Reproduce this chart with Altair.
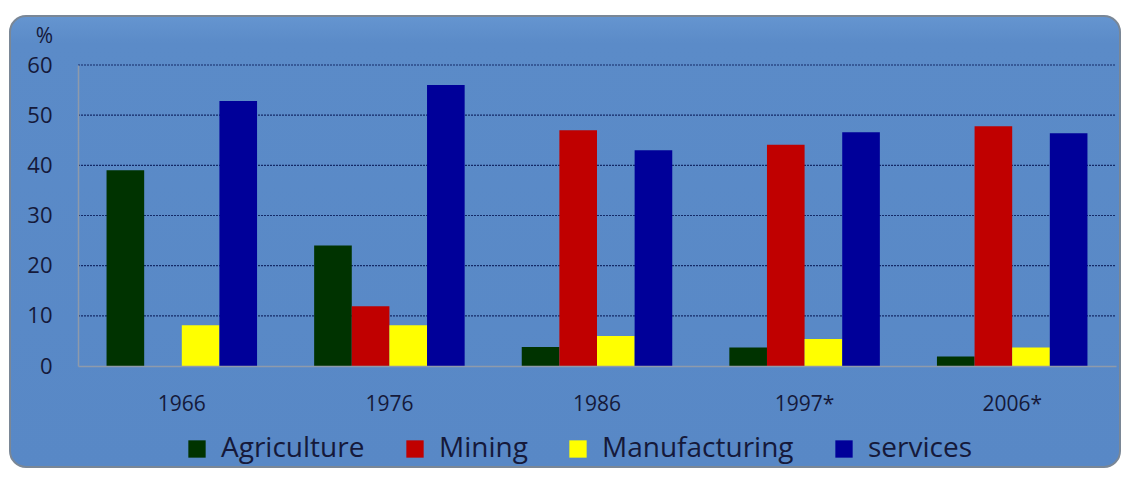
import altair as alt
import pandas as pd

years = ["1966", "1976", "1986", "1997*", "2006*"]
sectors = ["Agriculture", "Mining", "Manufacturing", "services"]
agriculture = [39.0, 24.0, 3.8, 3.7, 1.9]
mining = [0.0, 11.9, 47.0, 44.1, 47.8]
manufacturing = [8.1, 8.1, 6.0, 5.4, 3.7]
services = [52.8, 56.0, 43.0, 46.6, 46.4]
colors = ["#003300", "#C00000", "#FFFF00", "#000099"]
y_ticks = [0, 10, 20, 30, 40, 50, 60]
grid_ticks = [10, 20, 30, 40, 50, 60]

series = [agriculture, mining, manufacturing, services]
rows = []
for s, vals in zip(sectors, series):
    for yr, v in zip(years, vals):
        rows.append({"year": yr, "sector": s, "value": v})
df = pd.DataFrame(rows)
grid_df = pd.DataFrame({"value": grid_ticks})

text_color = "#15193a"
font = "Open Sans"
yscale = alt.Scale(domain=[0, 60], nice=False)

y_axis = alt.Axis(
    values=y_ticks,
    title="%",
    titleAngle=0,
    titleX=-34,
    titleY=-29,
    titleAlign="center",
    titleBaseline="middle",
    titleFontSize=21,
    titleFont=font,
    titleFontWeight="normal",
    titleColor=text_color,
    ticks=False,
    domainColor="#8e9aab",
    domainWidth=1.5,
    labelFontSize=22,
    labelFont=font,
    labelColor=text_color,
    labelPadding=26,
    grid=False,
    zindex=1,
)

panel = alt.Chart(alt.Data(values=[{"k": 1}])).mark_rect(
    cornerRadius=16,
    stroke="#7a8796",
    strokeWidth=2,
    fill=alt.Gradient(
        gradient="linear",
        stops=[
            alt.GradientStop(color="#6595d0", offset=0),
            alt.GradientStop(color="#5b8bc8", offset=0.06),
            alt.GradientStop(color="#5888c6", offset=1),
        ],
        x1=0, x2=0, y1=0, y2=1,
    ),
).encode(
    x=alt.value(-68), x2=alt.value(1042), y=alt.value(-49), y2=alt.value(402)
)

grid = alt.Chart(grid_df).mark_rule(
    color="#142a68", strokeDash=[2, 1], strokeWidth=1.2
).encode(
    y=alt.Y("value:Q", scale=yscale, axis=y_axis, title="%"),
    x=alt.value(0),
    x2=alt.value(1038),
)

bars = alt.Chart(df).mark_bar().encode(
    x=alt.X(
        "year:N",
        sort=years,
        scale=alt.Scale(paddingInner=0.275, paddingOuter=0.1375),
        axis=alt.Axis(
            title=None,
            labelAngle=0,
            ticks=False,
            domainColor="#8e9aab",
            domainWidth=1.5,
            labelFontSize=21,
            labelFont=font,
            labelColor=text_color,
            labelPadding=27,
            grid=False,
            zindex=1,
        ),
    ),
    xOffset=alt.XOffset(
        "sector:N", sort=sectors, scale=alt.Scale(paddingInner=0, paddingOuter=0)
    ),
    y=alt.Y("value:Q", scale=yscale, axis=y_axis, title="%"),
    color=alt.Color(
        "sector:N",
        sort=sectors,
        scale=alt.Scale(domain=sectors, range=colors),
        legend=alt.Legend(
            title=None,
            orient="none",
            legendX=105,
            legendY=370,
            direction="horizontal",
            symbolType="square",
            symbolSize=300,
            symbolStrokeWidth=0,
            labelFontSize=28,
            labelFont=font,
            labelColor=text_color,
            labelOffset=10,
            labelLimit=0,
            columnPadding=36,
            padding=0,
        ),
    ),
)

chart = alt.layer(panel, grid, bars).resolve_scale(y="shared").properties(
    width=1038,
    height=301,
    autosize=alt.AutoSizeParams(type="none"),
    padding={"left": 70, "top": 57, "right": 6, "bottom": 103},
    background="white",
).configure_view(stroke=None).configure_axisY(titleFontSize=21)

chart.save("out.html", embed_options={"renderer": "svg", "actions": False})
